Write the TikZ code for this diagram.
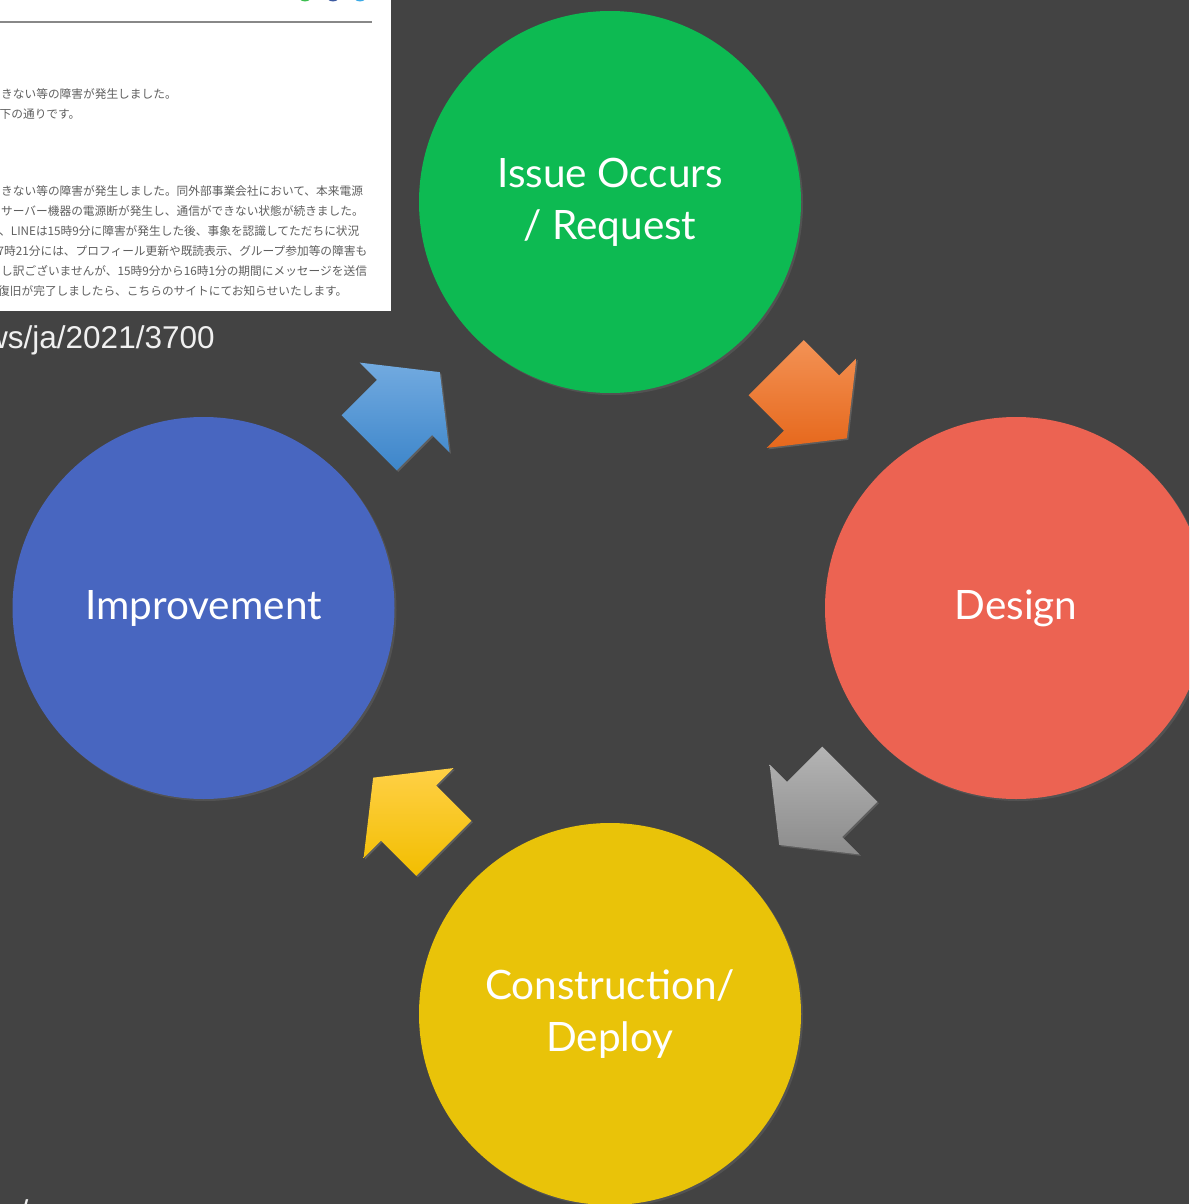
\documentclass[tikz,border=0pt]{standalone}
\usepackage{fontspec}
\newfontfamily\labelfont{Lato}
\newfontfamily\urlfont{Liberation Sans}
\newfontfamily\jpfont{Noto Sans CJK JP}
\usetikzlibrary{shadows}
\definecolor{bg}{RGB}{67,67,67}
\definecolor{rulegray}{RGB}{136,136,136}
\definecolor{jpgray}{RGB}{95,95,95}
\definecolor{sharegreen}{RGB}{60,190,80}
\definecolor{shareblue}{RGB}{60,90,160}
\definecolor{sharelight}{RGB}{60,170,230}
\definecolor{issuegreen}{RGB}{13,186,82}
\definecolor{designred}{RGB}{236,99,82}
\definecolor{improveblue}{RGB}{72,102,192}
\definecolor{buildyellow}{RGB}{233,195,9}
\definecolor{blueT}{RGB}{114,170,224}
\definecolor{blueB}{RGB}{61,134,202}
\definecolor{orangeT}{RGB}{243,146,85}
\definecolor{orangeB}{RGB}{230,104,28}
\definecolor{grayT}{RGB}{180,180,180}
\definecolor{grayB}{RGB}{140,140,140}
\definecolor{yellowT}{RGB}{255,208,70}
\definecolor{yellowB}{RGB}{242,190,0}
\newcommand{\fatarrow}[6]{%
  \path[cyclearrow, top color=#1, bottom color=#2]
    ({#3+50*(#5)},{#4+50*(#6)})
 -- ({#3-63.5*(#6)},{#4+63.5*(#5)})
 -- ({#3-39*(#6)},{#4+39*(#5)})
 -- ({#3-39*(#6)-50*(#5)},{#4+39*(#5)-50*(#6)})
 -- ({#3+39*(#6)-50*(#5)},{#4-39*(#5)-50*(#6)})
 -- ({#3+39*(#6)},{#4-39*(#5)})
 -- ({#3+63.5*(#6)},{#4-63.5*(#5)}) -- cycle;}
\begin{document}
\begin{tikzpicture}[x=1pt,y=-1pt,
  stage/.style={circle, minimum size=382pt, inner sep=0pt, text=white, align=center,
    font=\labelfont\fontsize{40.5}{52}\selectfont,
    drop shadow={opacity=0.25, shadow xshift=2pt, shadow yshift=-2pt}},
  jptext/.style={anchor=base west, inner sep=0pt, text=jpgray,
    font=\jpfont\fontsize{11.7}{14}\selectfont},
  urltext/.style={anchor=base west, inner sep=0pt, text=white!94!black,
    font=\urlfont\fontsize{31.5}{36}\selectfont},
  cyclearrow/.style={drop shadow={opacity=0.45, shadow xshift=1.5pt, shadow yshift=-1.5pt}}
]
\useasboundingbox (0,0) rectangle (1189,1204);
\clip (0,0) rectangle (1189,1204);
\fill[bg] (0,0) rectangle (1189,1204);
% screenshot panel
\fill[white] (0,0) rectangle (391,311);
\draw[rulegray, line width=1.6pt] (0,22) -- (372,22);
\fill[sharegreen] (305,-6) circle (7.5);
\fill[shareblue] (333,-6) circle (7.5);
\fill[sharelight] (360,-6) circle (7.5);
\node[jptext] (j1) at (1,99) {きない等の障害が発生しました。};
\node[jptext] (j2) at (-0.5,119) {下の通りです。};
\node[jptext] (j3) at (1,195) {きない等の障害が発生しました。同外部事業会社において、本来電源};
\node[jptext] (j4) at (1,215) {サーバー機器の電源断が発生し、通信ができない状態が続きました。};
\node[jptext] (j5) at (-1,235) {、LINEは15時9分に障害が発生した後、事象を認識してただちに状況};
\node[jptext] (j6) at (-2.5,255) {7時21分には、プロフィール更新や既読表示、グループ参加等の障害も};
\node[jptext] (j7) at (1,275) {し訳ございませんが、15時9分から16時1分の期間にメッセージを送信};
\node[jptext] (j8) at (-2,295) {復旧が完了しましたら、こちらのサイトにてお知らせいたします。};
\node[urltext] (url) at (-15,348.5) {ws/ja/2021/3700};
\node[urltext] (url2) at (19.5,1222) {/};
% stages
\node[stage, fill=issuegreen] (issue) at (610,202) {Issue Occurs\\/ Request};
\node[stage, fill=designred] (design) at (1016,608) {Design};
\node[stage, fill=buildyellow] (build) at (610,1014) {Construction/\\Deploy};
\node[stage, fill=improveblue] (improve) at (203.5,608) {Improvement};
% cycle arrows
\fatarrow{blueT}{blueB}{404.5}{407.5}{0.7071}{-0.7071}
\fatarrow{orangeT}{orangeB}{811.5}{403}{0.7071}{0.7071}
\fatarrow{grayT}{grayB}{814.5}{809.5}{-0.7071}{0.7071}
\fatarrow{yellowT}{yellowB}{408.5}{813}{-0.7071}{-0.7071}
\end{tikzpicture}
\end{document}
